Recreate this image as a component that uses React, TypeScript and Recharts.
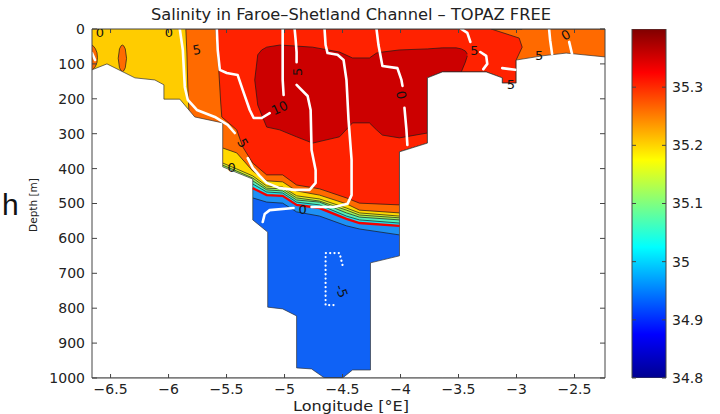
import React from 'react';
import { ComposedChart, Area, Line, Scatter, XAxis, YAxis } from 'recharts';

// ---------- axis ticks ----------
const lonTicks = [-6.5, -6, -5.5, -5, -4.5, -4, -3.5, -3, -2.5];
const depthTicks = [0, 100, 200, 300, 400, 500, 600, 700, 800, 900, 1000];
const salinityTicks = [34.8, 34.9, 35, 35.1, 35.2, 35.3];
const lonDomain: [number, number] = [-6.66, -2.237];
const depthDomain: [number, number] = [0, 1000];
const salinityDomain: [number, number] = [34.8, 35.4];

// ---------- bathymetry (lon, depth) ----------
const bathymetry: [number, number][] = [
  [-6.66, 117], [-6.531, 100], [-6.29, 140], [-6.118, 146], [-6.04, 160], [-6.04, 201],
  [-5.903, 201], [-5.774, 252], [-5.533, 269], [-5.533, 395], [-5.274, 430], [-5.274, 547],
  [-5.145, 582], [-5.145, 797], [-5.016, 802], [-4.896, 822], [-4.896, 971], [-4.767, 974],
  [-4.655, 1000], [-4.5, 1000], [-4.414, 977], [-4.259, 977], [-4.259, 670], [-4.009, 650],
  [-4.009, 352], [-3.768, 327], [-3.768, 140], [-3.639, 123], [-3.261, 123], [-3.123, 140],
  [-3.123, 155], [-3.003, 155], [-3.003, 89], [-2.779, 77], [-2.572, 69], [-2.237, 80],
];

// ---------- filled salinity regions (lon, top depth, bottom depth) ----------
const yellowBase: [number, number, number][] = [[-6.66, 0, 1000], [-2.237, 0, 1000]];
const orangeRegion: [number, number, number][] = [
  [-5.851, 0, 0], [-5.842, 0, 69], [-5.834, 0, 166], [-5.825, 0, 232], [-5.81, 0, 1000], [-2.237, 0, 1000],
];
const orangeEllipseA: [number, number, number][] = [
  [-6.434, 84, 84], [-6.423, 57, 111], [-6.409, 48, 120], [-6.398, 46, 122],
  [-6.387, 48, 120], [-6.373, 57, 111], [-6.362, 84, 84],
];
const orangeEllipseB: [number, number, number][] = [
  [-6.66, 46, 118], [-6.645, 50, 114], [-6.63, 57, 107], [-6.617, 68, 96], [-6.613, 82, 82],
];
const redRegion: [number, number, number][] = [
  [-5.593, 0, 0], [-5.576, 0, 69], [-5.55, 0, 212], [-5.541, 0, 252], [-5.412, 0, 289],
  [-5.36, 0, 338], [-5.274, 0, 384], [-5.154, 0, 418], [-5.016, 0, 418], [-4.896, 0, 447],
  [-4.698, 0, 458], [-4.466, 0, 484], [-4.354, 0, 499], [-4.009, 0, 504], [-4.009, 0, 352],
  [-3.768, 0, 327], [-3.768, 0, 140], [-3.639, 0, 123], [-3.261, 0, 123], [-3.123, 0, 140],
  [-3.123, 0, 155], [-3.003, 0, 155], [-3.003, 0, 89], [-2.951, 0, 52], [-2.977, 0, 26], [-3.218, 0, 0],
];
const darkRedRegion: [number, number, number][] = [
  [-5.257, 146, 146], [-5.231, 74, 218], [-5.197, 60, 246], [-5.154, 52, 281], [-5.042, 46, 289],
  [-4.896, 49, 309], [-4.758, 52, 327], [-4.526, 66, 309], [-4.414, 83, 269], [-4.268, 83, 269],
  [-4.207, 69, 289], [-4.156, 66, 304], [-4.009, 60, 312], [-3.768, 57, 298], [-3.768, 57, 140],
  [-3.639, 54, 123], [-3.519, 54, 123], [-3.476, 57, 123], [-3.441, 63, 95], [-3.424, 72, 77],
];

// deep channel bands: upper boundary (lon, depth); each band fills down to the bottom
const yellowBandTop: [number, number][] = [
  [-5.533, 341], [-5.412, 355], [-5.274, 407], [-5.154, 435], [-5.016, 438], [-4.896, 464],
  [-4.698, 476], [-4.466, 501], [-4.354, 519], [-4.009, 527], [-3.751, 527],
];
const yellowGreenBandTop: [number, number][] = [
  [-5.533, 384], [-5.412, 401], [-5.274, 421], [-5.154, 450], [-5.016, 453], [-4.896, 478],
  [-4.698, 487], [-4.466, 513], [-4.354, 527], [-4.009, 536], [-3.751, 536],
];
const greenBandTop: [number, number][] = [
  [-5.533, 390], [-5.412, 407], [-5.274, 427], [-5.154, 456], [-5.016, 458], [-4.896, 484],
  [-4.698, 493], [-4.466, 519], [-4.354, 533], [-4.009, 541], [-3.751, 541],
];
const aquaBandTop: [number, number][] = [
  [-5.412, 413], [-5.274, 435], [-5.154, 461], [-5.016, 464], [-4.896, 490],
  [-4.698, 496], [-4.466, 527], [-4.354, 539], [-4.009, 547], [-3.751, 547],
];
const cyanBandTop: [number, number][] = [
  [-5.412, 418], [-5.274, 444], [-5.154, 467], [-5.016, 470], [-4.896, 496],
  [-4.698, 504], [-4.466, 536], [-4.354, 547], [-4.009, 556], [-3.751, 556],
];
const redLineDepth: [number, number][] = [
  [-5.274, 456], [-5.154, 476], [-5.016, 478], [-4.896, 504], [-4.698, 513],
  [-4.466, 544], [-4.354, 556], [-4.009, 564],
];
const lightBlueBandTop: [number, number][] = [
  [-5.274, 456], [-5.154, 476], [-5.016, 478], [-4.896, 504], [-4.698, 513],
  [-4.466, 544], [-4.354, 556], [-4.009, 564], [-3.751, 564],
];
const blueBandTop: [number, number][] = [
  [-5.274, 484], [-5.154, 496], [-5.016, 499], [-4.896, 524], [-4.698, 536],
  [-4.466, 564], [-4.354, 573], [-4.009, 590], [-3.751, 590],
];

// ---------- white velocity contours (null = gap for a label) ----------
const contour5: ([number, number] | null)[] = [
  [-5.903, 0], [-5.877, 60], [-5.86, 166], [-5.834, 203], [-5.756, 232], [-5.601, 252],
  [-5.49, 275], [-5.429, 298], null, [-5.317, 370], [-5.274, 398], [-5.214, 421], [-5.154, 441],
  [-5.042, 456], [-4.913, 461], [-4.784, 461], [-4.732, 441], [-4.732, 404], [-4.767, 347],
  [-4.775, 232], [-4.801, 192], [-4.896, 160], null, [-4.896, 95], [-4.896, 66], [-4.904, 32], [-4.913, 0],
];
const contour10: ([number, number] | null)[] = [
  [-5.584, 0], [-5.576, 60], [-5.558, 117], [-5.498, 126], [-5.404, 132], [-5.36, 175],
  [-5.3, 232], [-5.266, 255], [-5.197, 255], [-5.128, 241], null, [-5.008, 189],
  [-5.016, 146], [-5.016, 60], [-5.016, 0],
];
const contour0Main: ([number, number] | null)[] = [
  [-4.655, 0], [-4.646, 46], [-4.629, 69], [-4.543, 74], [-4.491, 89], [-4.466, 146],
  [-4.448, 261], [-4.422, 375], [-4.422, 476], [-4.457, 501], [-4.569, 510], [-4.767, 510],
  null, [-4.922, 513], [-5.128, 519], [-5.171, 530], [-5.188, 553],
];
const contour0East: ([number, number] | null)[] = [
  [-4.207, 0], [-4.19, 46], [-4.156, 106], [-4.027, 112], [-3.992, 146], [-3.983, 163],
  null, [-3.966, 226], [-3.949, 289], [-3.941, 332],
];
const contour5East: ([number, number] | null)[] = [
  [-3.476, 0], [-3.424, 11], [-3.398, 37], null, [-3.312, 66], [-3.261, 77], [-3.252, 100], [-3.286, 115],
];
const contourShelfBit: [number, number][] = [[-3.123, 112], [-3.011, 117]];
const contourFarEastA: [number, number][] = [[-2.719, 0], [-2.71, 32], [-2.693, 72]];
const contourFarEastB: [number, number][] = [[-2.546, 37], [-2.521, 72]];
const contourWestEdge: [number, number][] = [[-6.66, 69], [-6.634, 89]];
const contourMinus5: [number, number][] = [
  [-4.5, 676], [-4.526, 642], [-4.646, 642], [-4.646, 791], [-4.552, 791],
];

// ---------- contour labels (lon, depth, text, angle) ----------
const labelLon = [-6.591, -5.997, -5.756, -5.36, -5.042, -4.887, -5.455, -4.844, -3.995, -3.364, -2.805, -3.048, -2.575, -4.509];
const labelDepth = [11, 11, 60, 327, 226, 123, 398, 516, 189, 63, 77, 160, 17, 751];
const labelText = ['0', '0', '5', '5', '10', '5', '0', '0', '0', '5', '5', '5', '0', '-5'];
const labelAngle = [0, 0, -10, 60, -25, -90, 0, 0, 80, 0, 0, 0, -30, 70];

// ---------- colour bar ----------
const colorBarRows = [{ x: 0, r: [34.8, 35.4], y: 34.8 }, { x: 1, r: [34.8, 35.4], y: 35.4 }];
const frameRows = [{ x: -6.66, y: 0 }, { x: -2.237, y: 1000 }];

// ---------- colours ----------
const C = {
  yellow: '#FFCC00', orange: '#FF6A00', red: '#FF2200', darkRed: '#CC0000',
  bandYellow: '#FFD800', yellowGreen: '#DCF52A', green: '#9CF25E', aqua: '#56F0B8',
  cyan: '#1EE2F2', lightBlue: '#1E90F5', blue: '#0F62F6', redLine: '#F20000',
};

const rangeRows = (rows: [number, number, number][]) => rows.map(([x, a, b]) => ({ x, r: [a, b] }));
const bandRows = (rows: [number, number][]) => rows.map(([x, a]) => ({ x, r: [a, 1000] }));
const lineRows = (pts: ([number, number] | null)[]) => {
  let lastX = 0;
  return pts.map((p) => {
    if (p) { lastX = p[0]; return { x: p[0], y: p[1] }; }
    return { x: lastX, y: null };
  });
};
const landRows = bathymetry.map(([x, d]) => ({ x, r: [d, 1000] }));
const labelRows = labelLon.map((x, i) => ({ x, y: labelDepth[i], t: labelText[i], rot: labelAngle[i] }));

const fmtLon = (v: number) => (v < 0 ? '\u2212' + Math.abs(v) : String(v));
const FONT = 'DejaVu Sans, Liberation Sans, sans-serif';
const AX = '#444';

const LabelShape = (props: any) => {
  const { cx, cy, payload } = props;
  if (cx == null || cy == null) return <g />;
  return (
    <text x={cx} y={cy} transform={`rotate(${payload.rot} ${cx} ${cy})`} textAnchor="middle"
      dominantBaseline="central" fontSize={13} fontFamily={FONT} fill="#111">{payload.t}</text>
  );
};

const fillArea = (key: string, rows: any[], fill: string, stroke = '#1a1a1a') => (
  <Area key={key} data={rows} dataKey="r" type="linear" fill={fill} fillOpacity={1} stroke={stroke}
    strokeWidth={0.7} isAnimationActive={false} dot={false} activeDot={false} />
);

const whiteLine = (key: string, rows: any[], dashed = false) => (
  <Line key={key} data={rows} dataKey="y" type="linear" stroke="#ffffff" strokeWidth={dashed ? 2.2 : 2.6}
    strokeDasharray={dashed ? '0.1 4.2' : undefined} strokeLinecap="round" strokeLinejoin="round"
    dot={false} activeDot={false} isAnimationActive={false} />
);

export default function App() {
  return (
    <div style={{ position: 'absolute', left: 0, top: 0, width: 720, height: 414, background: '#fff', overflow: 'hidden' }}>
      <div style={{ position: 'absolute', left: 0, top: 0 }}>
        <ComposedChart width={720} height={414} margin={{ top: 24, right: 110, bottom: 6, left: 42 }}>
          {fillArea('base', rangeRows(yellowBase), C.yellow, 'none')}
          {fillArea('orange', rangeRows(orangeRegion), C.orange)}
          {fillArea('ellA', rangeRows(orangeEllipseA), C.orange)}
          {fillArea('ellB', rangeRows(orangeEllipseB), C.orange)}
          {fillArea('red', rangeRows(redRegion), C.red)}
          {fillArea('darkred', rangeRows(darkRedRegion), C.darkRed)}
          {fillArea('by', bandRows(yellowBandTop), C.bandYellow)}
          {fillArea('byg', bandRows(yellowGreenBandTop), C.yellowGreen)}
          {fillArea('bg', bandRows(greenBandTop), C.green)}
          {fillArea('ba', bandRows(aquaBandTop), C.aqua)}
          {fillArea('bc', bandRows(cyanBandTop), C.cyan)}
          {fillArea('blb', bandRows(lightBlueBandTop), C.lightBlue)}
          {fillArea('bb', bandRows(blueBandTop), C.blue)}
          <Line data={lineRows(redLineDepth)} dataKey="y" type="linear" stroke={C.redLine} strokeWidth={2.4}
            dot={false} activeDot={false} isAnimationActive={false} />
          {fillArea('land', landRows, '#ffffff', '#333')}
          {whiteLine('w5', lineRows(contour5))}
          {whiteLine('w10', lineRows(contour10))}
          {whiteLine('w0', lineRows(contour0Main))}
          {whiteLine('w0e', lineRows(contour0East))}
          {whiteLine('w5e', lineRows(contour5East))}
          {whiteLine('wsb', lineRows(contourShelfBit))}
          {whiteLine('wfa', lineRows(contourFarEastA))}
          {whiteLine('wfb', lineRows(contourFarEastB))}
          {whiteLine('wwe', lineRows(contourWestEdge))}
          {whiteLine('wm5', lineRows(contourMinus5), true)}
          <Scatter data={labelRows} dataKey="y" shape={LabelShape} isAnimationActive={false} />
          <Line data={frameRows} dataKey="y" xAxisId="top" yAxisId="right" stroke="none" dot={false}
            activeDot={false} isAnimationActive={false} />
          <XAxis dataKey="x" type="number" domain={lonDomain} allowDataOverflow ticks={lonTicks} interval={0}
            tickFormatter={fmtLon} height={30} tickSize={-4} tickMargin={10} stroke={AX}
            tick={{ fill: '#222', fontSize: 14, fontFamily: FONT }} />
          <XAxis xAxisId="top" dataKey="x" orientation="top" type="number" domain={lonDomain} allowDataOverflow
            ticks={lonTicks} interval={0} tickFormatter={() => ''} height={5} tickSize={-4} stroke={AX} />
          <YAxis dataKey="y" type="number" domain={depthDomain} reversed allowDataOverflow ticks={depthTicks} interval={0}
            width={50} tickSize={-5} tickMargin={12} stroke={AX}
            tick={{ fill: '#222', fontSize: 14, fontFamily: FONT }} />
          <YAxis yAxisId="right" dataKey="y" orientation="right" type="number" domain={depthDomain} reversed
            allowDataOverflow ticks={depthTicks} interval={0} tickFormatter={() => ''} width={5} tickSize={-5}
            stroke={AX} />
        </ComposedChart>
      </div>
      <div style={{ position: 'absolute', left: 0, top: 0 }}>
        <ComposedChart width={720} height={414} margin={{ top: 29, right: 4, bottom: 36, left: 627 }}>
          <defs>
            <linearGradient id="jet" x1="0" y1="1" x2="0" y2="0">
              <stop offset="0" stopColor="#000090" />
              <stop offset="0.125" stopColor="#0000FF" />
              <stop offset="0.375" stopColor="#00FFFF" />
              <stop offset="0.625" stopColor="#FFFF00" />
              <stop offset="0.875" stopColor="#FF0000" />
              <stop offset="1" stopColor="#800000" />
            </linearGradient>
          </defs>
          <Area data={colorBarRows} dataKey="r" yAxisId="r" type="linear" fill="url(#jet)" fillOpacity={1}
            stroke={AX} strokeWidth={1} dot={false} activeDot={false} isAnimationActive={false} />
          <Line data={colorBarRows} dataKey="y" yAxisId="l" stroke="none" dot={false} activeDot={false}
            isAnimationActive={false} />
          <XAxis dataKey="x" type="number" domain={[0, 1]} hide />
          <YAxis yAxisId="l" type="number" domain={salinityDomain} allowDataOverflow ticks={salinityTicks} interval={0}
            tickFormatter={() => ''} width={5} tickSize={-4} stroke={AX} />
          <YAxis yAxisId="r" orientation="right" type="number" domain={salinityDomain} allowDataOverflow
            ticks={salinityTicks} interval={0} width={50} tickSize={-4} tickMargin={10} stroke={AX}
            tick={{ fill: '#222', fontSize: 14, fontFamily: FONT }} />
        </ComposedChart>
      </div>
      <svg width={720} height={414} style={{ position: 'absolute', left: 0, top: 0, pointerEvents: 'none' }}>
        <text x={351} y={20} textAnchor="middle" fontSize={15} textLength={400} lengthAdjust="spacingAndGlyphs"
          fontFamily={FONT} fill="#222">
          Salinity in Faroe–Shetland Channel – TOPAZ FREE
        </text>
        <text x={351} y={411} textAnchor="middle" fontSize={14} textLength={116} lengthAdjust="spacingAndGlyphs"
          fontFamily={FONT} fill="#222">Longitude [°E]</text>
        <text x={0} y={0} transform="translate(37 205) rotate(-90)" textAnchor="middle" fontSize={10.5}
          fontFamily={FONT} fill="#222">Depth [m]</text>
        <text x={2} y={215} fontSize={30} fontFamily="Liberation Sans, Arial, sans-serif" fill="#111">h</text>
      </svg>
    </div>
  );
}
